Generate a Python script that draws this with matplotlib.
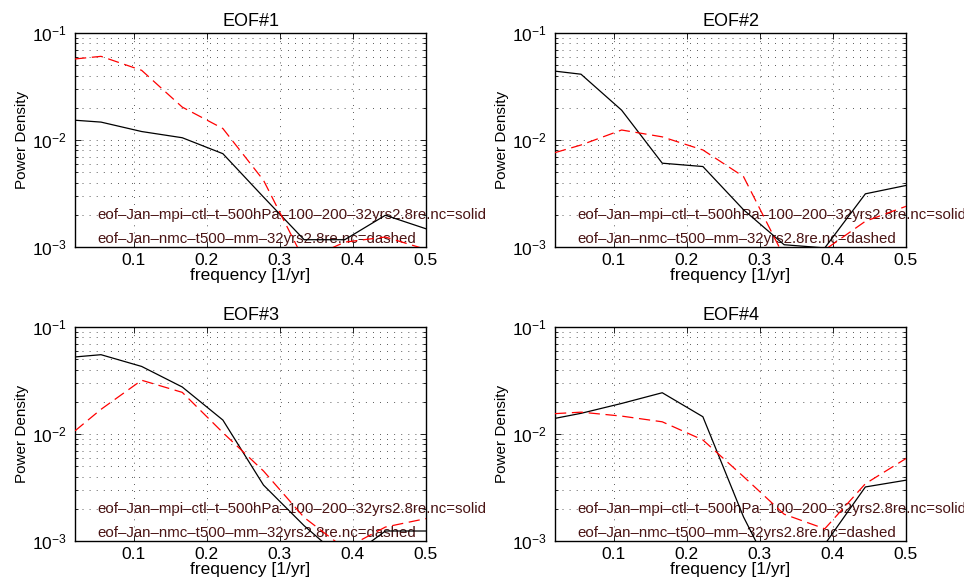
import numpy as np
import matplotlib
matplotlib.use("Agg")
import matplotlib.pyplot as plt
from matplotlib.ticker import LogLocator, NullFormatter, FixedLocator

plt.rcParams['font.family'] = ['Liberation Sans', 'DejaVu Sans']
plt.rcParams['mathtext.fontset'] = 'custom'
plt.rcParams['mathtext.rm'] = 'Liberation Sans'
plt.rcParams['mathtext.it'] = 'Liberation Sans'

# frequency axis [1/yr]
freq = [0.02, 1/18, 2/18, 3/18, 4/18, 5/18, 6/18, 7/18, 8/18, 9/18]

# power spectra of the leading EOFs: model (solid) vs. analysis (dashed)
eof1_mpi = [0.0153, 0.0147, 0.0120, 0.0105, 0.00745, 0.00293, 0.00117, 0.00117, 0.00198, 0.00148]
eof1_nmc = [0.0572, 0.0605, 0.0448, 0.0203, 0.0128, 0.0042, 0.00075, 0.00111, 0.00124, 0.00095]

eof2_mpi = [0.0440, 0.0412, 0.0190, 0.00607, 0.00565, 0.00223, 0.00105, 0.00098, 0.00314, 0.00376]
eof2_nmc = [0.00762, 0.00898, 0.0124, 0.0107, 0.00807, 0.00455, 0.00081, 0.00094, 0.00174, 0.0024]

eof3_mpi = [0.0525, 0.0551, 0.0428, 0.0275, 0.0135, 0.00333, 0.00139, 0.00065, 0.00124, 0.00124]
eof3_nmc = [0.0107, 0.0170, 0.0318, 0.0245, 0.0103, 0.00451, 0.00166, 0.00085, 0.00135, 0.00162]

eof4_mpi = [0.0140, 0.0156, 0.0193, 0.0243, 0.0145, 0.00168, 0.00030, 0.00093, 0.0032, 0.0037]
eof4_nmc = [0.0155, 0.0160, 0.0147, 0.0130, 0.0088, 0.0040, 0.00178, 0.0013, 0.00343, 0.0059]

titles = ["EOF#1", "EOF#2", "EOF#3", "EOF#4"]
solid_series = [eof1_mpi, eof2_mpi, eof3_mpi, eof4_mpi]
dashed_series = [eof1_nmc, eof2_nmc, eof3_nmc, eof4_nmc]

label_solid = "eof\u2013Jan\u2013mpi\u2013ctl\u2013t\u2013500hPa\u2013100\u2013200\u201332yrs2.8re.nc=solid"
label_dashed = "eof\u2013Jan\u2013nmc\u2013t500\u2013mm\u201332yrs2.8re.nc=dashed"

x_ticks = [0.1, 0.2, 0.3, 0.4, 0.5]
x_tick_labels = ["0.1", "0.2", "0.3", "0.4", "0.5"]

W, H = 964, 581
fig = plt.figure(figsize=(W / 100, H / 100), dpi=100)

# axes boxes in pixels: (left, top, right, bottom)
boxes = [(75, 33, 426, 247), (555, 33, 906, 247),
         (75, 327, 426, 541), (555, 327, 906, 541)]

text_color = "#4a1414"
dot_grid = (0, (1, 7.5))

for box, title, ys, yd in zip(boxes, titles, solid_series, dashed_series):
    l, t, r, b = box
    ax = fig.add_axes([l / W, 1 - b / H, (r - l) / W, (b - t) / H])
    ax.set_yscale("log")
    ax.set_xlim(0.02, 0.5)
    ax.set_ylim(1e-3, 1e-1)

    ax.text(0.05, 0.00198, label_solid, color=text_color, fontsize=10.8,
            va="center", ha="left", clip_on=False, zorder=2)
    ax.text(0.05, 0.00118, label_dashed, color=text_color, fontsize=10.8,
            va="center", ha="left", clip_on=False, zorder=2)

    ax.plot(freq, ys, color="black", lw=0.9, zorder=3)
    ax.plot(freq, yd, color="red", lw=0.9, dashes=(9, 4.5), zorder=3)

    ax.xaxis.set_major_locator(FixedLocator(x_ticks))
    ax.set_xticklabels(x_tick_labels)
    ax.yaxis.set_major_locator(LogLocator(base=10, numticks=5))
    ax.yaxis.set_minor_locator(LogLocator(base=10, subs=np.arange(2, 10), numticks=20))
    ax.yaxis.set_minor_formatter(NullFormatter())

    ax.grid(True, which="major", axis="both", color="#222222", lw=0.6,
            linestyle=dot_grid)
    ax.grid(True, which="minor", axis="y", color="#222222", lw=0.6,
            linestyle=dot_grid)
    ax.tick_params(which="both", direction="in", top=True, right=True,
                   labelsize=12.5, length=4, width=0.6)
    ax.tick_params(axis="x", pad=4)
    ax.tick_params(axis="y", pad=6)
    ax.tick_params(which="minor", length=2)
    for s in ax.spines.values():
        s.set_linewidth(1.0)

    ax.set_title(title, fontsize=13, pad=5)
    ax.set_xlabel("frequency [1/yr]", fontsize=12.5, labelpad=0)
    ax.set_ylabel("Power Density", fontsize=11, labelpad=2)

fig.savefig("out.png", dpi=100)
